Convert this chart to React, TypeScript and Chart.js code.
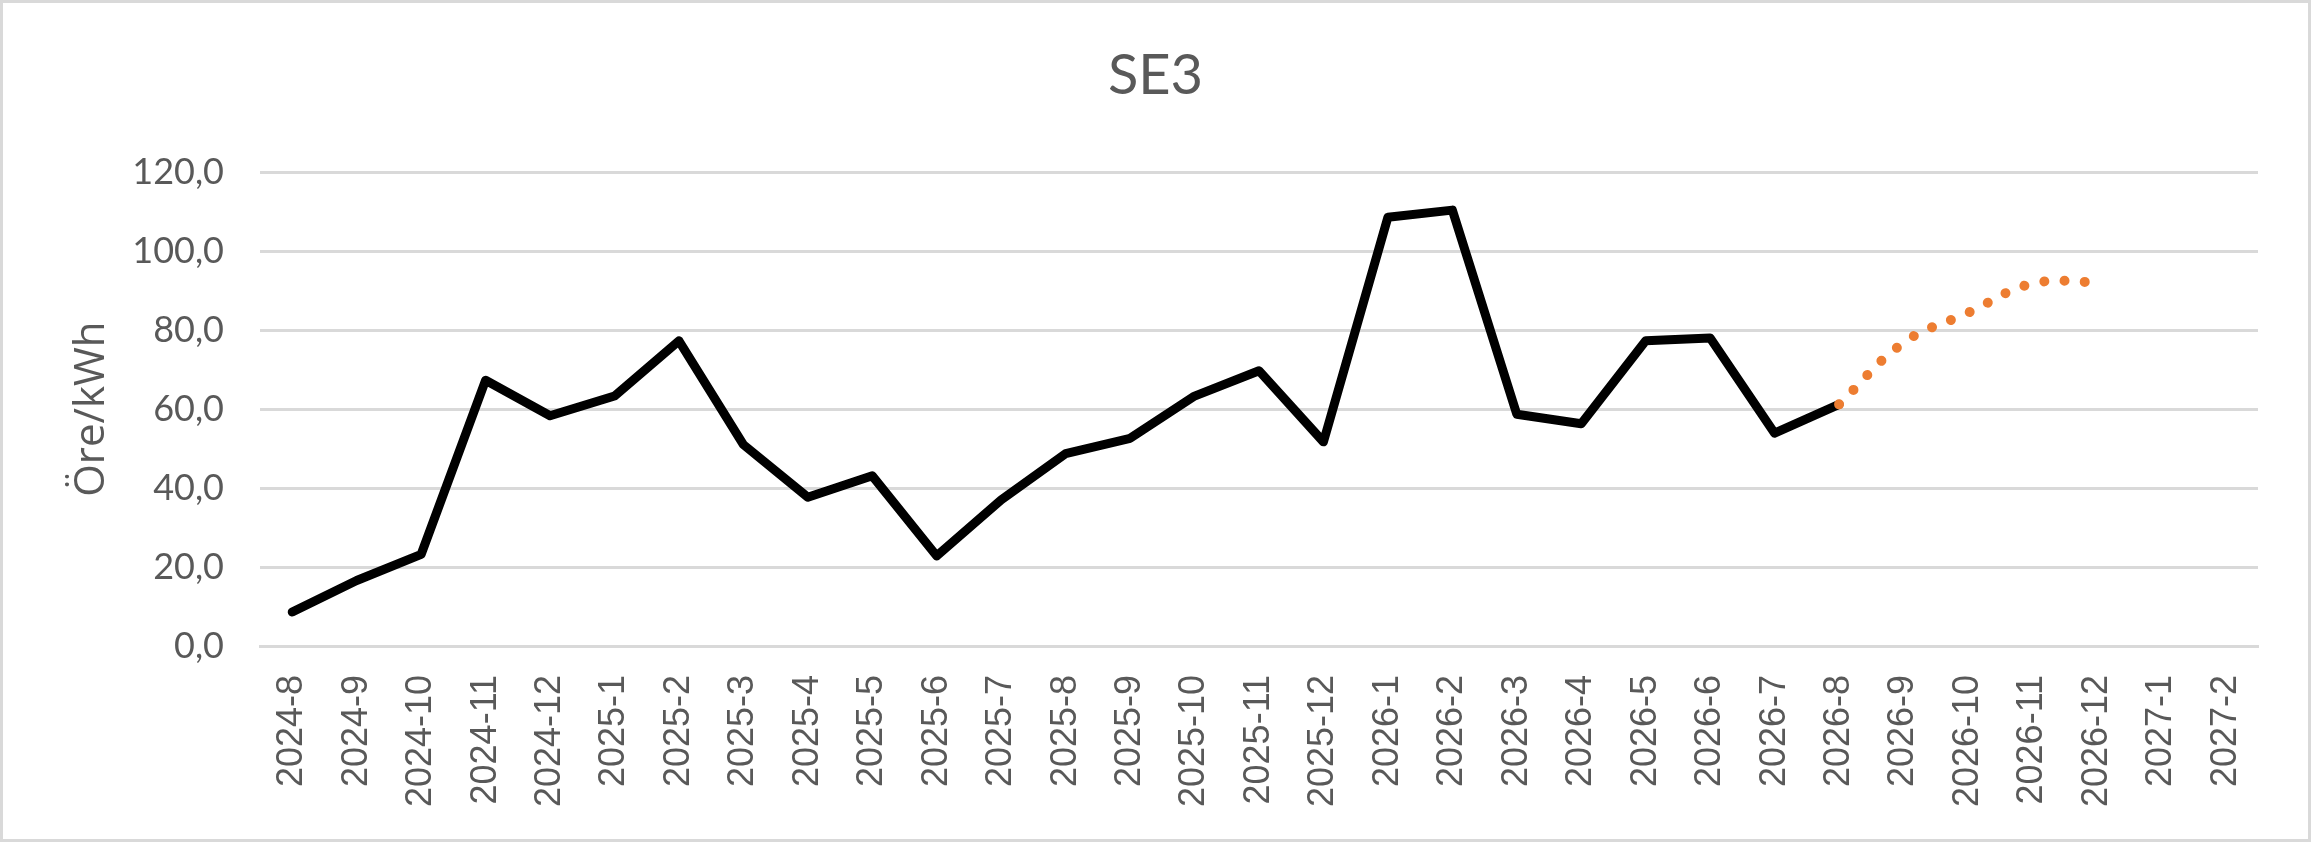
import { useEffect, useRef } from 'react';
import { Chart, registerables } from 'chart.js';

Chart.register(...registerables);

const months = [
    '2024-8', '2024-9', '2024-10', '2024-11', '2024-12',
    '2025-1', '2025-2', '2025-3', '2025-4', '2025-5', '2025-6', '2025-7', '2025-8', '2025-9', '2025-10', '2025-11', '2025-12',
    '2026-1', '2026-2', '2026-3', '2026-4', '2026-5', '2026-6', '2026-7', '2026-8', '2026-9', '2026-10', '2026-11', '2026-12',
    '2027-1', '2027-2',
];

// observed monthly price, öre/kWh
const actual = [
    8.6, 16.6, 23.2, 67.3, 58.3,
    63.3, 77.3, 51.0, 37.7, 43.1, 22.8, 37.0, 48.7, 52.6, 63.3, 69.7, 51.7,
    108.6, 110.4, 58.7, 56.3, 77.3, 78.0, 53.9, 61.2,
    null, null, null, null, null, null,
];

// forecast (dotted orange)
const forecast = [
    null, null, null, null, null,
    null, null, null, null, null, null, null, null, null, null, null, null,
    null, null, null, null, null, null, null, 61.2, 76.8, 84.4, 91.8, 92.2,
    null, null,
];

const yMin = 0;
const yMax = 120;
const yStep = 20;

const gray = '#595959';
const gridGray = '#d9d9d9';

const frame = {
    id: 'frame',
    beforeDraw(chart: Chart) {
        const { ctx, width, height } = chart;
        ctx.save();
        ctx.fillStyle = '#ffffff';
        ctx.fillRect(0, 0, width, height);
        ctx.strokeStyle = gridGray;
        ctx.lineWidth = 3;
        ctx.strokeRect(1.5, 1.5, width - 3, height - 3);
        ctx.restore();
    },
};

export default function App() {
    const canvasRef = useRef<HTMLCanvasElement>(null);

    useEffect(() => {
        document.body.style.margin = '0';
        if (!canvasRef.current) return;
        const chart = new Chart(canvasRef.current, {
            type: 'line',
            data: {
                labels: months,
                datasets: [
                    {
                        label: 'SE3',
                        data: actual,
                        borderColor: '#000000',
                        borderWidth: 9,
                        borderJoinStyle: 'round',
                        borderCapStyle: 'round',
                        pointRadius: 0,
                        tension: 0,
                        order: 2,
                    },
                    {
                        label: 'Prognos',
                        data: forecast,
                        borderColor: '#ED7D31',
                        borderWidth: 10,
                        borderDash: [0.001, 20.3],
                        borderCapStyle: 'round',
                        pointRadius: 0,
                        tension: 0.4,
                        order: 1,
                    },
                ],
            },
            options: {
                responsive: false,
                animation: false,
                layout: { padding: { left: 53, right: 53, top: 0, bottom: 0 } },
                plugins: {
                    legend: { display: false },
                    tooltip: { enabled: false },
                    title: {
                        display: true,
                        text: 'SE3',
                        color: gray,
                        font: { family: 'Lato', size: 56, weight: 'normal', lineHeight: 1.2 },
                        padding: { top: 42, bottom: 63 },
                    },
                },
                scales: {
                    x: {
                        offset: true,
                        grid: { display: false, drawTicks: false },
                        border: { display: true, color: gridGray, width: 3 },
                        ticks: {
                            autoSkip: false,
                            minRotation: 90,
                            maxRotation: 90,
                            padding: 29,
                            color: gray,
                            font: { family: 'Liberation Sans', size: 36 },
                        },
                        afterFit: (scale) => { scale.height = 196; },
                    },
                    y: {
                        min: yMin,
                        max: yMax,
                        grid: { color: gridGray, lineWidth: 3, drawTicks: false },
                        border: { display: false },
                        ticks: {
                            stepSize: yStep,
                            padding: 36,
                            color: gray,
                            font: { family: 'Lato', size: 36 },
                            callback: (v) => Number(v).toFixed(1).replace('.', ','),
                        },
                        title: {
                            display: true,
                            text: 'Öre/kWh',
                            color: gray,
                            font: { family: 'Open Sans', size: 42, lineHeight: 1.2 },
                            padding: { top: 14, bottom: 0 },
                        },
                        afterFit: (scale) => { scale.width = 207; },
                    },
                },
            },
            plugins: [frame],
        });
        return () => chart.destroy();
    }, []);

    return <canvas ref={canvasRef} width={2311} height={842} style={{ display: 'block' }} />;
}
